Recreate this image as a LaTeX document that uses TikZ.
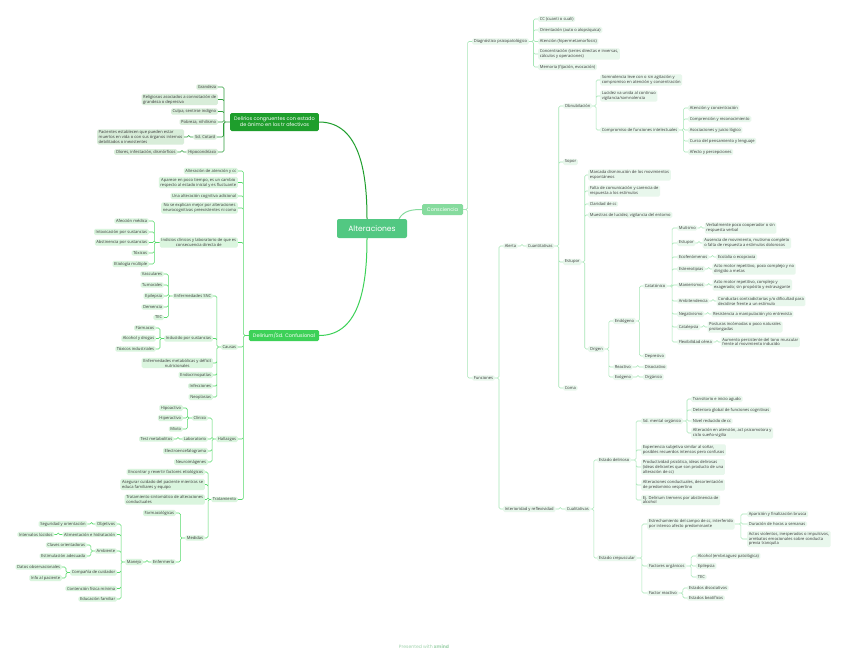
\documentclass[tikz,border=0pt]{standalone}
\usepackage{fontspec}
\setmainfont{Open Sans}
\newfontfamily\headfont{Poppins}
\usetikzlibrary{positioning,calc}

\definecolor{rootgreen}{HTML}{52C882}
\definecolor{deepgreen}{HTML}{1E9E2C}
\definecolor{brightgreen}{HTML}{3DD158}
\definecolor{palegreen}{HTML}{86DB9E}
\definecolor{lineA}{HTML}{2E9E3C}
\definecolor{lineB}{HTML}{55D96A}
\definecolor{lineC}{HTML}{A6E6B6}
\definecolor{fillA}{HTML}{D8EDD9}
\definecolor{fillB}{HTML}{DAF5DE}
\definecolor{fillC}{HTML}{E8F7EC}
\definecolor{ink}{HTML}{3A3A3A}

\begin{document}
\begin{tikzpicture}[
    x=1pt, y=-1pt,
    every node/.style={font=\fontsize{4.1}{4.9}\selectfont, text=ink},
    box/.style={rounded corners=1.5pt, inner xsep=1.6pt, inner ysep=1.1pt},
    leafA/.style={box, fill=fillA},
    leafB/.style={box, fill=fillB},
    leafC/.style={box, fill=fillC},
    branch/.style={box, text=white, font=\headfont\fontsize{5}{6}\selectfont, align=center, inner xsep=4pt},
    root/.style={box, fill=rootgreen, text=white, font=\headfont\fontsize{7.6}{9}\selectfont, minimum width=70pt, minimum height=19pt, rounded corners=2pt},
    elbow/.style={rounded corners=1.5pt, line width=0.55pt, to path={-- ($(\tikztostart)!.5!(\tikztotarget |- \tikztostart)$) |- (\tikztotarget)}},
    linkA/.style={elbow, draw=lineA},
    linkB/.style={elbow, draw=lineB},
    linkC/.style={elbow, draw=lineC},
    trunk/.style={line width=1pt}
  ]
    \fill[white] (0,0) rectangle (848,656);
    \useasboundingbox (0,0) rectangle (848,656);

    % centre and main branches
    \node[root] (alt) at (372,228.5) {Alteraciones};
    \node[branch, fill=deepgreen, minimum height=18pt] (delir) at (274.5,122) {Delirios congruentes con estado\\de ánimo en los tr afectivos};
    \node[branch, fill=brightgreen, minimum height=11pt] (delium) at (284,335.5) {Delirium/Sd. Confusional};
    \node[branch, fill=palegreen, minimum height=11pt, minimum width=41pt] (consc) at (442.5,209.5) {Consciencia};

    \draw[trunk, deepgreen] ([xshift=-5pt]alt.north) to[out=90,in=0] (delir.east);
    \draw[trunk, brightgreen] ([xshift=-5pt]alt.south) to[out=-90,in=0] (delium.east);
    \draw[trunk, palegreen] ([xshift=27pt]alt.north) to[out=60,in=180] (consc.west);

    % delirios congruentes
    \node[leafA, anchor=east] (grand) at (218,87) {Grandeza};
    \node[leafA, anchor=east, align=left] (relig) at (218,99.5) {Religiosos asociados a connotación de\\grandeza o depresiva};
    \node[leafA, anchor=east] (culpa) at (218,111.5) {Culpa, sentirse indigno};
    \node[leafA, anchor=east] (pobre) at (218,122) {Pobreza, nihilismo};
    \node[leafA, anchor=east] (cotard) at (217,137) {Sd. Cotard};
    \node[leafA, left=9pt of cotard, align=left] (cotardtx) {Pacientes establecen que pueden estar\\muertos en vida o con sus órganos internos\\debilitados o inexistentes};
    \node[leafA, anchor=east] (hipoc) at (218,152) {Hipocondríaco};
    \node[leafA, left=9pt of hipoc] (hipoctx) {Olores, infestación, dismórficos};

    \draw[linkA] (delir.west) to (grand.east) (delir.west) to (relig.east) (delir.west) to (culpa.east)
      (delir.west) to (pobre.east) (delir.west) to (cotard.east) (delir.west) to (hipoc.east);
    \draw[linkA] (cotard.west) to (cotardtx.east);
    \draw[linkA] (hipoc.west) to (hipoctx.east);

    % delirium
    \node[leafB, anchor=east] (dmaten) at (238,171) {Alteración de atención y cc};
    \node[leafB, anchor=east, align=center] (dmtiempo) at (238,182.5) {Aparece en poco tiempo, es un cambio\\respecto al estado inicial y es fluctuante};
    \node[leafB, anchor=east] (dmcogn) at (238,196) {Una alteración cognitiva adicional};
    \node[leafB, anchor=east, align=center] (dmexpl) at (238,208) {No se explican mejor por alteraciones\\neurocognitivas preexistentes ni coma};
    \node[leafB, anchor=east, align=center] (dmindic) at (238,242.5) {Indicios clínicos y laboratorio de que es\\consecuencia directa de};
    \node[leafB, anchor=east] (afecc) at (149,221) {Afección médica};
    \node[leafB, anchor=east] (intox) at (149,232) {Intoxicación por sustancias};
    \node[leafB, anchor=east] (abst) at (149,242.5) {Abstinencia por sustancias};
    \node[leafB, anchor=east] (toxic) at (149,253) {Tóxicos};
    \node[leafB, anchor=east] (etiol) at (149,264) {Etiología múltiple};

    \node[leafB, anchor=east] (causas) at (238,347) {Causas};
    \node[leafB, anchor=east] (snc) at (213,296) {Enfermedades SNC};
    \node[leafB, anchor=east] (vasc) at (164,274) {Vasculares};
    \node[leafB, anchor=east] (tumor) at (164,285) {Tumorales};
    \node[leafB, anchor=east] (epil) at (164,296) {Epilepsia};
    \node[leafB, anchor=east] (demen) at (164,307) {Demencia};
    \node[leafB, anchor=east] (tec) at (164,317.5) {TEC};
    \node[leafB, anchor=east] (induc) at (213,338.5) {Inducido por sustancias};
    \node[leafB, anchor=east] (farm) at (156,328) {Fármacos};
    \node[leafB, anchor=east] (alcoh) at (156,338.5) {Alcohol y drogas};
    \node[leafB, anchor=east] (toxind) at (156,349) {Tóxicos industriales};
    \node[leafB, anchor=east, align=center] (metab) at (213,363) {Enfermedades metabólicas y déficit\\nutricionales};
    \node[leafB, anchor=east] (endoc) at (213,375) {Endocrinopatías};
    \node[leafB, anchor=east] (infec) at (213,386) {Infecciones};
    \node[leafB, anchor=east] (neopl) at (213,397) {Neoplasias};

    \node[leafB, anchor=east] (hallaz) at (238,439) {Hallazgos};
    \node[leafB, anchor=east] (clin) at (208,418) {Clínico};
    \node[leafB, anchor=east] (hipoa) at (183,408) {Hipoactivo};
    \node[leafB, anchor=east] (hiper) at (183,418) {Hiperactivo};
    \node[leafB, anchor=east] (mixto) at (183,429) {Mixto};
    \node[leafB, anchor=east] (labor) at (208,439) {Laboratorio};
    \node[leafB, left=8pt of labor] (testm) {Test metabolitos};
    \node[leafB, anchor=east] (eeg) at (208,451) {Electroencefalograma};
    \node[leafB, anchor=east] (neuroim) at (208,462) {Neuroimágenes};

    \node[leafB, anchor=east] (tratam) at (238,499.5) {Tratamiento};
    \node[leafB, anchor=east] (revert) at (205,472) {Encontrar y revertir factores etiológicos};
    \node[leafB, anchor=east, align=left] (asegur) at (205,484.5) {Asegurar cuidado del paciente mientras se\\educa familiares y equipo};
    \node[leafB, anchor=east, align=left] (sintom) at (205,499.5) {Tratamiento sintomático de alteraciones\\conductuales};
    \node[leafB, anchor=east] (medid) at (205,538) {Medidas};
    \node[leafB, anchor=east] (farmac) at (176,513) {Farmacológicas};
    \node[leafB, anchor=east] (enferm) at (176,562) {Enfermería};
    \node[leafB, anchor=east] (manejo) at (143,562) {Manejo};
    \node[leafB, anchor=east] (objet) at (117,524) {Objetivos};
    \node[leafB, left=8pt of objet] (segur) {Seguridad y orientación};
    \node[leafB, anchor=east] (alim) at (117,534.5) {Alimentación e hidratación};
    \node[leafB, left=8pt of alim] (interv) {Intervalos lúcidos};
    \node[leafB, anchor=east] (ambie) at (117,551) {Ambiente};
    \node[leafB, anchor=east] (claves) at (87,545) {Claves orientadoras};
    \node[leafB, anchor=east] (estim) at (87,556) {Estimulación adecuada};
    \node[leafB, anchor=east] (compa) at (117,572.5) {Compañía de cuidador};
    \node[leafB, anchor=east] (datos) at (62,567) {Datos observacionales};
    \node[leafB, anchor=east] (info) at (62,578) {Info al paciente};
    \node[leafB, anchor=east] (conten) at (117,588.5) {Contención física mínima};
    \node[leafB, anchor=east] (educ) at (117,599) {Educación familiar};

    \draw[linkB] (delium.west) to (dmaten.east) (delium.west) to (dmtiempo.east) (delium.west) to (dmcogn.east)
      (delium.west) to (dmexpl.east) (delium.west) to (dmindic.east) (delium.west) to (causas.east)
      (delium.west) to (hallaz.east) (delium.west) to (tratam.east);
    \draw[linkB] (dmindic.west) to (afecc.east) (dmindic.west) to (intox.east) (dmindic.west) to (abst.east)
      (dmindic.west) to (toxic.east) (dmindic.west) to (etiol.east);
    \draw[linkB] (causas.west) to (snc.east) (causas.west) to (induc.east) (causas.west) to (metab.east)
      (causas.west) to (endoc.east) (causas.west) to (infec.east) (causas.west) to (neopl.east);
    \draw[linkB] (snc.west) to (vasc.east) (snc.west) to (tumor.east) (snc.west) to (epil.east)
      (snc.west) to (demen.east) (snc.west) to (tec.east);
    \draw[linkB] (induc.west) to (farm.east) (induc.west) to (alcoh.east) (induc.west) to (toxind.east);
    \draw[linkB] (hallaz.west) to (clin.east) (hallaz.west) to (labor.east) (hallaz.west) to (eeg.east)
      (hallaz.west) to (neuroim.east);
    \draw[linkB] (clin.west) to (hipoa.east) (clin.west) to (hiper.east) (clin.west) to (mixto.east);
    \draw[linkB] (labor.west) to (testm.east);
    \draw[linkB] (tratam.west) to (revert.east) (tratam.west) to (asegur.east) (tratam.west) to (sintom.east)
      (tratam.west) to (medid.east);
    \draw[linkB] (medid.west) to (farmac.east) (medid.west) to (enferm.east);
    \draw[linkB] (enferm.west) to (manejo.east);
    \draw[linkB] (manejo.west) to (objet.east) (manejo.west) to (alim.east) (manejo.west) to (ambie.east)
      (manejo.west) to (compa.east) (manejo.west) to (conten.east) (manejo.west) to (educ.east);
    \draw[linkB] (objet.west) to (segur.east);
    \draw[linkB] (alim.west) to (interv.east);
    \draw[linkB] (ambie.west) to (claves.east) (ambie.west) to (estim.east);
    \draw[linkB] (compa.west) to (datos.east) (compa.west) to (info.east);

    % consciencia
    \node[leafC, anchor=west] (diag) at (472,41.5) {Diagnóstico psicopatológico};
    \node[leafC, anchor=west] (cc) at (538,19) {CC (cuanti o cuali)};
    \node[leafC, anchor=west] (orien) at (538,30) {Orientación (auto o alopsíquica)};
    \node[leafC, anchor=west] (atenc) at (538,41.5) {Atención (hipermetamorfosis)};
    \node[leafC, anchor=west, align=left] (concen) at (538,54) {Concentración (series directas e inversas,\\cálculos y operaciones)};
    \node[leafC, anchor=west] (memo) at (538,67) {Memoria (fijación, evocación)};

    \node[leafC, anchor=west] (func) at (472,378) {Funciones};
    \node[leafC, anchor=west] (alerta) at (503,246) {Alerta};
    \node[leafC, anchor=west] (cuanti) at (526,246) {Cuantitativas};
    \node[leafC, anchor=west] (obnub) at (563,106) {Obnubilación};
    \node[leafC, anchor=west, align=left] (somno) at (600,80) {Somnolencia leve con o sin agitación y\\compromiso en atención y concentración};
    \node[leafC, anchor=west, align=left] (lucid) at (600,96) {Lucidez va unida al continuo\\vigilancia/somnolencia};
    \node[leafC, anchor=west] (compr) at (600,130) {Compromiso de funciones intelectuales};
    \node[leafC, anchor=west] (fat) at (688,108) {Atención y concentración};
    \node[leafC, anchor=west] (fcomp) at (688,119) {Comprensión y reconocimiento};
    \node[leafC, anchor=west] (fasoc) at (688,130) {Asociaciones y juicio lógico};
    \node[leafC, anchor=west] (fcurso) at (688,141) {Curso del pensamiento y lenguaje};
    \node[leafC, anchor=west] (fafec) at (688,152) {Afecto y percepciones};
    \node[leafC, anchor=west] (sopor) at (563,162) {Sopor};
    \node[leafC, anchor=west] (estup) at (563,262) {Estupor};
    \node[leafC, anchor=west, align=left] (marca) at (588,175) {Marcada disminución de los movimientos\\espontáneos};
    \node[leafC, anchor=west, align=left] (falta) at (588,191) {Falta de comunicación y carencia de\\respuesta a los estímulos};
    \node[leafC, anchor=west] (clarid) at (588,204) {Claridad de cc};
    \node[leafC, anchor=west] (muest) at (588,215) {Muestras de lucidez, vigilancia del entorno};
    \node[leafC, anchor=west] (orig) at (588,349) {Origen};
    \node[leafC, anchor=west] (endog) at (613,321) {Endógeno};
    \node[leafC, anchor=west] (catat) at (643,286) {Catatónico};
    \node[leafC, anchor=west] (mutis) at (677,228) {Mutismo};
    \node[leafC, right=7pt of mutis, align=left] (mutistx) {Verbalmente poco cooperador o sin\\respuesta verbal};
    \node[leafC, anchor=west] (estdos) at (677,243) {Estupor};
    \node[leafC, right=7pt of estdos, align=left] (estdostx) {Ausencia de movimiento, mutismo completo\\o falta de respuesta a estímulos dolorosos};
    \node[leafC, anchor=west] (ecofen) at (677,257) {Ecofenómenos};
    \node[leafC, right=7pt of ecofen] (ecofentx) {Ecolalia o ecopraxia};
    \node[leafC, anchor=west] (estere) at (677,269) {Estereotipias};
    \node[leafC, right=7pt of estere, align=left] (esteretx) {Acto motor repetitivo, poco complejo y no\\dirigido a metas};
    \node[leafC, anchor=west] (manier) at (677,285) {Manierismos};
    \node[leafC, right=7pt of manier, align=left] (maniertx) {Acto motor repetitivo, complejo y\\exagerado; sin propósito y extravagante};
    \node[leafC, anchor=west] (ambit) at (677,301) {Ambitendencia};
    \node[leafC, right=7pt of ambit, align=left] (ambittx) {Conductas contradictorias y/o dificultad para\\decidirse frente a un estímulo};
    \node[leafC, anchor=west] (negat) at (677,314) {Negativismo};
    \node[leafC, right=7pt of negat] (negattx) {Resistencia a manipulación y/o entrevista};
    \node[leafC, anchor=west] (catal) at (677,327) {Catalepsia};
    \node[leafC, right=7pt of catal, align=left] (cataltx) {Posturas incómodas o poco naturales\\prolongadas};
    \node[leafC, anchor=west] (flexi) at (677,342) {Flexibilidad cérea};
    \node[leafC, right=7pt of flexi, align=left] (flexitx) {Aumento persistente del tono muscular\\frente al movimiento inducido};
    \node[leafC, anchor=west] (depre) at (643,356) {Depresivo};
    \node[leafC, anchor=west] (react) at (613,367) {Reactivo};
    \node[leafC, anchor=west] (disoc) at (643,367) {Disociativo};
    \node[leafC, anchor=west] (exog) at (613,377) {Exógeno};
    \node[leafC, anchor=west] (organ) at (643,377) {Orgánico};
    \node[leafC, anchor=west] (coma) at (563,388) {Coma};

    \node[leafC, anchor=west] (inter) at (503,509) {Interioridad y reflexividad};
    \node[leafC, anchor=west] (cuali) at (565,509) {Cualitativas};
    \node[leafC, anchor=west] (edel) at (597,460) {Estado delirioso};
    \node[leafC, anchor=west] (sdmo) at (641,421) {Sd. mental orgánico};
    \node[leafC, anchor=west] (trans) at (691,399) {Transitorio e inicio agudo};
    \node[leafC, anchor=west] (deter) at (691,410) {Deterioro global de funciones cognitivas};
    \node[leafC, anchor=west] (nivel) at (691,421) {Nivel reducido de cc};
    \node[leafC, anchor=west, align=left] (alter) at (691,433) {Alteración en atención, act psicomotora y\\ciclo sueño-vigilia};
    \node[leafC, anchor=west, align=left] (exper) at (641,450) {Experiencia subjetiva similar al soñar,\\posibles recuerdos intensos pero confusos};
    \node[leafC, anchor=west, align=left] (produ) at (641,467) {Productividad psicótica, ideas delirosas\\(ideas delirantes que son producto de una\\alteración de cc)};
    \node[leafC, anchor=west, align=left] (altcon) at (641,485) {Alteraciones conductuales, desorientación\\de predominio vespertino};
    \node[leafC, anchor=west, align=left] (ejdel) at (641,500) {Ej. Delirium tremens por abstinencia de\\alcohol};
    \node[leafC, anchor=west] (ecrep) at (597,558) {Estado crepuscular};
    \node[leafC, anchor=west, align=left] (estre) at (647,524) {Estrechamiento del campo de cc, interferido\\por intenso afecto predominante};
    \node[leafC, anchor=west] (apar) at (747,514) {Aparición y finalización brusca};
    \node[leafC, anchor=west] (durac) at (747,524) {Duración de horas a semanas};
    \node[leafC, anchor=west, align=left] (actos) at (747,539) {Actos violentos, inesperados o impulsivos,\\arrebatos emocionales sobre conducta\\previa tranquila};
    \node[leafC, anchor=west] (forg) at (647,566) {Factores orgánicos};
    \node[leafC, anchor=west] (alcpat) at (696,556) {Alcohol (embriaguez patológica)};
    \node[leafC, anchor=west] (epildos) at (696,566) {Epilepsia};
    \node[leafC, anchor=west] (tecdos) at (696,577) {TEC};
    \node[leafC, anchor=west] (freac) at (647,593) {Factor reactivo};
    \node[leafC, anchor=west] (edis) at (687,588) {Estados disociativos};
    \node[leafC, anchor=west] (ebea) at (687,598) {Estados beatíficos};

    \draw[linkC] (consc.east) to (diag.west) (consc.east) to (func.west);
    \draw[linkC] (diag.east) to (cc.west) (diag.east) to (orien.west) (diag.east) to (atenc.west)
      (diag.east) to (concen.west) (diag.east) to (memo.west);
    \draw[linkC] (func.east) to (alerta.west) (func.east) to (inter.west);
    \draw[linkC] (alerta.east) to (cuanti.west);
    \draw[linkC] (cuanti.east) to (obnub.west) (cuanti.east) to (sopor.west) (cuanti.east) to (estup.west)
      (cuanti.east) to (coma.west);
    \draw[linkC] (obnub.east) to (somno.west) (obnub.east) to (lucid.west) (obnub.east) to (compr.west);
    \draw[linkC] (compr.east) to (fat.west) (compr.east) to (fcomp.west) (compr.east) to (fasoc.west)
      (compr.east) to (fcurso.west) (compr.east) to (fafec.west);
    \draw[linkC] (estup.east) to (marca.west) (estup.east) to (falta.west) (estup.east) to (clarid.west)
      (estup.east) to (muest.west) (estup.east) to (orig.west);
    \draw[linkC] (orig.east) to (endog.west) (orig.east) to (react.west) (orig.east) to (exog.west);
    \draw[linkC] (endog.east) to (catat.west) (endog.east) to (depre.west);
    \draw[linkC] (catat.east) to (mutis.west) (catat.east) to (estdos.west) (catat.east) to (ecofen.west)
      (catat.east) to (estere.west) (catat.east) to (manier.west) (catat.east) to (ambit.west)
      (catat.east) to (negat.west) (catat.east) to (catal.west) (catat.east) to (flexi.west);
    \draw[linkC] (mutis.east) to (mutistx.west) (estdos.east) to (estdostx.west) (ecofen.east) to (ecofentx.west)
      (estere.east) to (esteretx.west) (manier.east) to (maniertx.west) (ambit.east) to (ambittx.west)
      (negat.east) to (negattx.west) (catal.east) to (cataltx.west) (flexi.east) to (flexitx.west);
    \draw[linkC] (react.east) to (disoc.west);
    \draw[linkC] (exog.east) to (organ.west);
    \draw[linkC] (inter.east) to (cuali.west);
    \draw[linkC] (cuali.east) to (edel.west) (cuali.east) to (ecrep.west);
    \draw[linkC] (edel.east) to (sdmo.west) (edel.east) to (exper.west) (edel.east) to (produ.west)
      (edel.east) to (altcon.west) (edel.east) to (ejdel.west);
    \draw[linkC] (sdmo.east) to (trans.west) (sdmo.east) to (deter.west) (sdmo.east) to (nivel.west)
      (sdmo.east) to (alter.west);
    \draw[linkC] (ecrep.east) to (estre.west) (ecrep.east) to (forg.west) (ecrep.east) to (freac.west);
    \draw[linkC] (estre.east) to (apar.west) (estre.east) to (durac.west) (estre.east) to (actos.west);
    \draw[linkC] (forg.east) to (alcpat.west) (forg.east) to (epildos.west) (forg.east) to (tecdos.west);
    \draw[linkC] (freac.east) to (edis.west) (freac.east) to (ebea.west);

    \node[text=lineC!80!gray, font=\headfont\fontsize{4.6}{5}\selectfont] (xmind) at (424,647) {Presented with \textbf{xmind}};
  \end{tikzpicture}
\end{document}
